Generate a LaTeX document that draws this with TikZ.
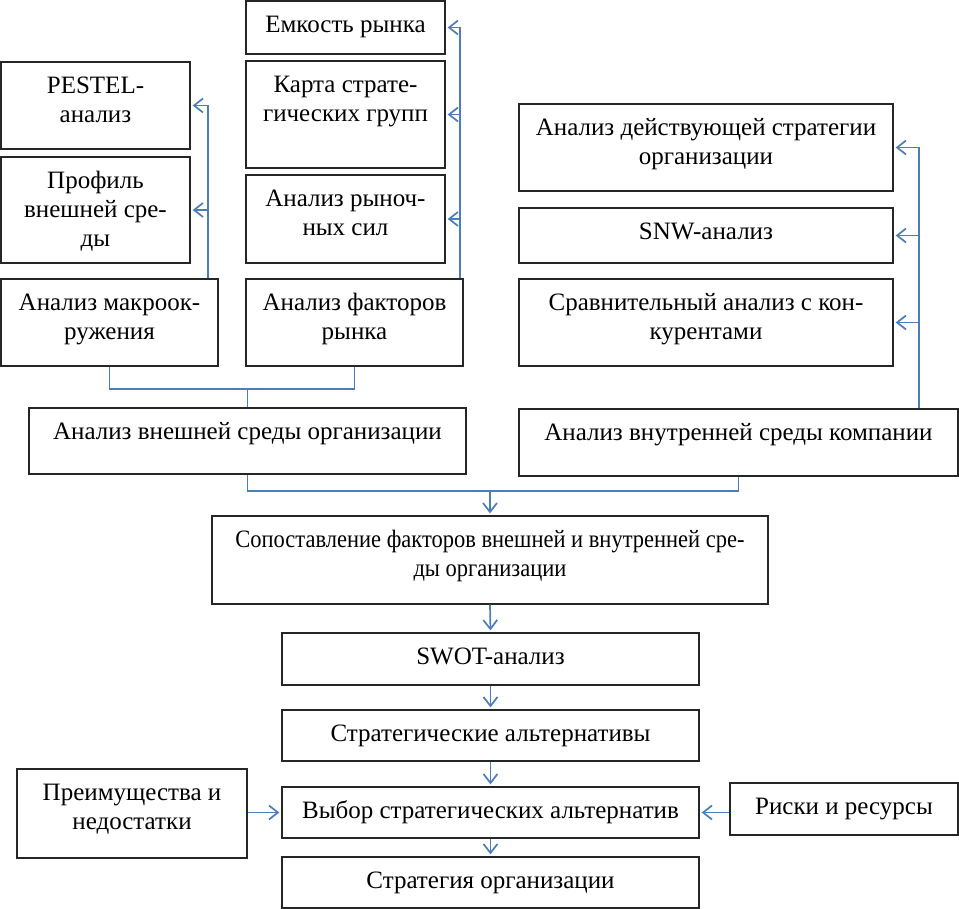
\documentclass[tikz,border=0pt]{standalone}
\usepackage{fontspec}
\setmainfont{Liberation Serif}
\newfontfamily\condfont[FakeStretch=0.9]{Liberation Serif}
\usetikzlibrary{arrows.meta,fit,calc}
\definecolor{lnk}{HTML}{4A7EBB}
\tikzset{
 box/.style={draw=black!85, line width=1.3pt, inner sep=0pt},
 txt/.style={anchor=north, align=center, inner sep=0pt, font=\fontsize{25}{29}\selectfont},
 conn/.style={draw=lnk, line width=1.7pt},
 arr/.style={conn, -{Straight Barb[length=9pt,width=14pt,line width=1.7pt]}, shorten >=2pt},
}
\newcommand\bx[6]{%
 \node[box, fit={(#2,#3)(#4,#5)}] (#1) {};
 \node[txt] at ([yshift=-11.5pt]#1.north) {\strut #6};
}
\begin{document}
\begin{tikzpicture}[x=1pt,y=-1pt]
\useasboundingbox (0,0) rectangle (959,909);
\bx{emk}{246}{1}{445}{54}{Емкость рынка}
\bx{pest}{1}{62}{190}{149}{PESTEL-\\анализ}
\bx{prof}{1}{157}{190}{263}{Профиль\\внешней сре-\\ды}
\bx{karta}{246}{61}{445}{168}{Карта страте-\\гических групп}
\bx{rynoch}{246}{175}{445}{263}{Анализ рыноч-\\ных сил}
\bx{macro}{1}{279}{218}{366}{Анализ макроок-\\ружения}
\bx{fact}{246}{279}{463}{366}{Анализ факторов\\рынка}
\bx{deistv}{519}{104}{893}{191}{Анализ действующей стратегии\\организации}
\bx{snw}{519}{208}{893}{263}{SNW-анализ}
\bx{srav}{519}{279}{893}{366}{Сравнительный анализ с кон-\\курентами}
\bx{ext}{29}{408}{466}{474}{Анализ внешней среды организации}
\bx{int}{519}{409}{958}{476}{Анализ внутренней среды компании}
\bx{sop}{212}{516}{768}{604}{\condfont Сопоставление факторов внешней и внутренней сре-\\\condfont ды организации}
\bx{swot}{282}{633}{699}{685}{SWOT-анализ}
\bx{alt}{282}{710}{699}{761}{Стратегические альтернативы}
\bx{vybor}{282}{787}{699}{838}{Выбор стратегических альтернатив}
\bx{strat}{282}{857}{699}{908}{Стратегия организации}
\bx{prem}{17}{769}{247}{858}{Преимущества и\\недостатки}
\bx{risk}{730}{783}{958}{835}{Риски и ресурсы}
% side feeders
\draw[arr] ([xshift=-11pt]macro.north east) |- (pest.east);
\draw[arr] ([xshift=-11pt]macro.north east) |- (prof.east);
\draw[arr] ([xshift=-4pt]fact.north east) |- (emk.east);
\draw[arr] ([xshift=-4pt]fact.north east) |- (karta.east);
\draw[arr] ([xshift=-4pt]fact.north east) |- (rynoch.east);
\draw[arr] ([xshift=-40pt]int.north east) |- (deistv.east);
\draw[arr] ([xshift=-40pt]int.north east) |- (snw.east);
\draw[arr] ([xshift=-40pt]int.north east) |- (srav.east);
% joins
\coordinate (j1) at (ext.north |- 0,389);
\draw[conn] (macro.south) |- (j1) -| (fact.south);
\draw[conn] (j1) -- (ext.north);
\coordinate (j2) at (sop.north |- 0,491);
\draw[conn] (ext.south) |- (j2) -| (int.south);
\draw[arr] (j2) -- (sop.north);
% main chain
\draw[arr] (sop.south) -- (swot.north);
\draw[arr] (swot.south) -- (alt.north);
\draw[arr] (alt.south) -- (vybor.north);
\draw[arr] (vybor.south) -- (strat.north);
\draw[arr] (prem.east |- vybor.west) -- (vybor.west);
\draw[arr] (risk.west |- vybor.east) -- (vybor.east);
\end{tikzpicture}
\end{document}
